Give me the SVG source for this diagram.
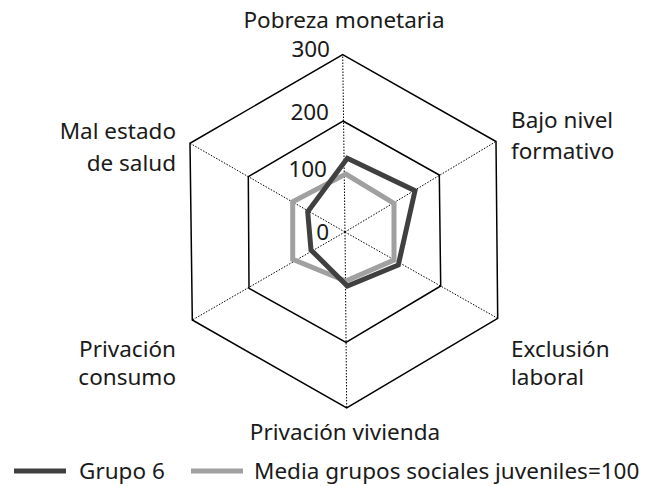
<svg xmlns="http://www.w3.org/2000/svg" width="651" height="486" viewBox="0 0 651 486">
<style>
text{font-family:"Noto Sans","Open Sans",sans-serif;font-size:22.5px;fill:#1a1a1a}
.grid{fill:none;stroke:#000;stroke-width:1.5}
.spoke{stroke:#000;stroke-width:1;stroke-dasharray:1.5,1.5}
.s1{fill:none;stroke:#404040;stroke-width:5;stroke-linejoin:miter}
.s2{fill:none;stroke:#a0a0a0;stroke-width:5;stroke-linejoin:miter}
.r{text-anchor:end}
.m{text-anchor:middle}
</style>
<rect width="651" height="486" fill="#fff"/>
<g id="grid">
<polygon class="grid" points="342.7,54.7 496,141.5 497.7,318.3 346.7,408 192.3,320 190,143.3"/>
<polygon class="grid" points="343,121 439.3,175 440.7,286 346,342.3 249,288.3 248.3,176.7"/>
</g>
<g id="connectors">
<line class="spoke" x1="345" y1="232" x2="342.7" y2="54.7"/>
<line class="spoke" x1="345" y1="232" x2="496" y2="141.5"/>
<line class="spoke" x1="345" y1="232" x2="497.7" y2="318.3"/>
<line class="spoke" x1="345" y1="232" x2="346.7" y2="408"/>
<line class="spoke" x1="345" y1="232" x2="192.3" y2="320"/>
<line class="spoke" x1="345" y1="232" x2="190" y2="143.3"/>
</g>
<g id="series-media">
<polygon class="s2" points="345.7,174 394,203.3 394,260 345.7,281 292.7,259.3 292.7,201.7"/>
</g>
<g id="series-grupo6">
<polygon class="s1" points="347.3,158.3 415,190.7 398.3,265 347.3,286 311,250 307.7,211.7"/>
</g>
<g id="ticks">
<text class="r" x="330" y="57">300</text>
<text class="r" x="329" y="120">200</text>
<text class="r" x="327" y="177">100</text>
<text class="r" x="329" y="240">0</text>
</g>
<g id="axis-labels">
<text class="m" x="344" y="28">Pobreza monetaria</text>
<text x="511" y="128">Bajo nivel</text>
<text x="511" y="159">formativo</text>
<text x="511" y="357">Exclusión</text>
<text x="511" y="385">laboral</text>
<text class="m" x="345" y="440">Privación vivienda</text>
<text class="r" x="176" y="357">Privación</text>
<text class="r" x="176" y="385">consumo</text>
<text class="r" x="176" y="139">Mal estado</text>
<text class="r" x="176" y="171">de salud</text>
</g>
<g id="legend">
<line x1="14" y1="471" x2="66" y2="471" stroke="#404040" stroke-width="5"/>
<text x="79" y="479">Grupo 6</text>
<line x1="191" y1="471" x2="243" y2="471" stroke="#a0a0a0" stroke-width="5"/>
<text x="254" y="479">Media grupos sociales juveniles=100</text>
</g>
</svg>
